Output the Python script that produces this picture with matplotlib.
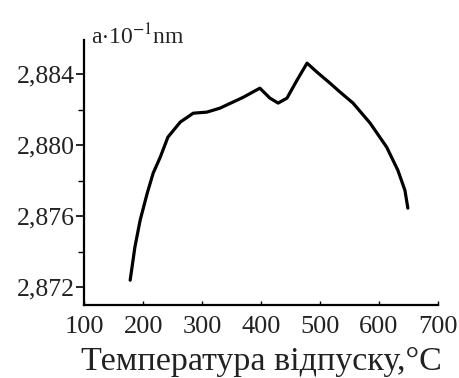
import numpy as np
import matplotlib
matplotlib.use("Agg")
import matplotlib.pyplot as plt

plt.rcParams['font.family'] = ['Liberation Serif', 'DejaVu Serif']
plt.rcParams['mathtext.fontset'] = 'stix'

# lattice parameter vs tempering temperature
temperature = [178, 186, 195, 207, 217, 229, 242, 263, 285, 308, 330, 352, 370,
               398, 415, 429, 444, 461, 478, 495, 517, 534, 556, 585, 613, 632,
               644, 649]
lattice = [2.87239, 2.87425, 2.87578, 2.87730, 2.87842, 2.87932, 2.88045, 2.88130,
           2.88180, 2.88186, 2.88208, 2.88242, 2.88270, 2.88321, 2.88265, 2.88237,
           2.88265, 2.88366, 2.88462, 2.88411, 2.88349, 2.88299, 2.88237, 2.88124,
           2.87989, 2.87859, 2.87746, 2.87645]

xticks = [100, 200, 300, 400, 500, 600, 700]
yticks = [2.872, 2.876, 2.880, 2.884]

fig = plt.figure(figsize=(4.6, 3.78), dpi=100)
ax = fig.add_axes([0.183, 0.193, 0.769, 0.701])

ax.plot(temperature, lattice, color='black', lw=2.3,
        solid_joinstyle='round', solid_capstyle='round')

ax.set_xlim(100, 700)
ax.set_ylim(2.87099, 2.88592)
ax.set_xticks(xticks)
ax.set_xticklabels([str(t) for t in xticks])
ax.set_yticks(yticks)
ax.set_yticklabels([('%.3f' % v).replace('.', ',') for v in yticks])
ax.set_yticks([2.874, 2.878, 2.882], minor=True)

for s in ['top', 'right']:
    ax.spines[s].set_visible(False)
for s in ['left', 'bottom']:
    ax.spines[s].set_linewidth(1.6)

ax.tick_params(axis='y', which='major', direction='out', length=6, width=1.2,
               labelsize=18.5, pad=1, labelcolor='#222222')
ax.tick_params(axis='y', which='minor', direction='out', length=4, width=1.0)
ax.tick_params(axis='x', which='major', direction='in', length=3, width=1.0,
               labelsize=19, pad=8, labelcolor='#222222')

ax.set_xlabel('Температура відпуску,°C', fontsize=24.5, labelpad=6,
              color='#222222')
ax.text(0.02, 1.015, r'a$\cdot$10$^{-1}$nm', transform=ax.transAxes,
        fontsize=17, va='center', ha='left', color='#222222')

fig.savefig('out.png', dpi=100)
